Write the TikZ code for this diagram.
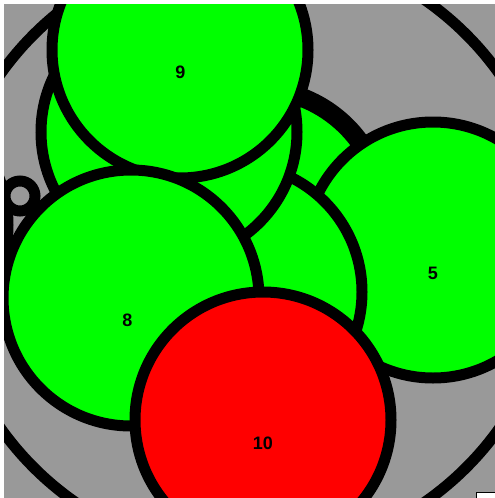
\documentclass[tikz,border=0pt]{standalone}
\usepackage{fontspec}
\setmainfont{Liberation Sans}
\usetikzlibrary{positioning}

\definecolor{bggray}{RGB}{153,153,153}
\definecolor{leaf}{RGB}{0,255,0}

\begin{document}
\begin{tikzpicture}[x=1pt,y=-1pt,
  disc/.style={circle,draw=black,line width=11pt,minimum size=256pt,inner sep=0pt,fill=#1},
  num/.style={font=\fontsize{18}{20}\selectfont\bfseries,inner sep=0pt}]
  \useasboundingbox (0,0) rectangle (495,498);
  \fill[white] (0,0) rectangle (495,498);
  \begin{scope}
    \clip (4,4) rectangle (495,498);
    \fill[bggray] (4,4) rectangle (495,498);
    % rings behind the discs
    \node[disc=bggray,minimum size=612pt] (ring) at (250,251) {};
    \node[disc=bggray] (left) at (-120,225) {};
    \node[disc=bggray,minimum size=30pt] (small) at (20,196) {};
    % green discs, back to front
    \node[disc=leaf,line width=19pt] (back) at (256,217) {};
    \node[disc=leaf] (c5) at (433,250) {};
    \node[disc=leaf] (mid) at (234,292) {};
    \node[disc=leaf] (upper) at (169,132) {};
    \node[disc=leaf] (c9) at (180,50) {};
    \node[disc=leaf] (c8) at (131,298) {};
    \node[disc=red] (c10) at (263,420) {};
  \end{scope}
  \node[num] (n9) at (180.5,72) {9};
  \node[num] (n8) at (127.5,320) {8};
  \node[num] (n5) at (433,273) {5};
  \node[num] (n10) at (263,443) {10};
  \draw[fill=white,line width=1pt] (476,492.5) rectangle (500,505);
\end{tikzpicture}
\end{document}
